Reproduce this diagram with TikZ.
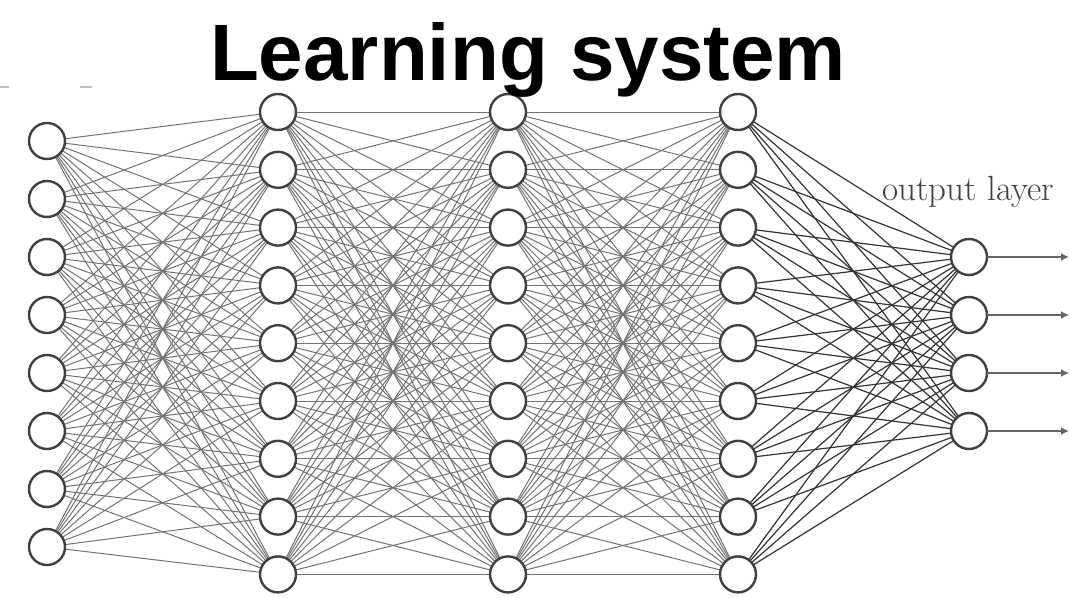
\documentclass[tikz,border=0pt]{standalone}
\usepackage{fontspec}
\newfontfamily\titlefont{Liberation Sans}
\usetikzlibrary{arrows.meta,backgrounds}
\tikzset{
  neuron/.style={circle, draw=black!75, line width=2.4pt, fill=white, minimum size=36pt, inner sep=0pt, outer sep=0pt},
  link/.style={draw=black!55, line width=1pt},
  darklink/.style={draw=black!80, line width=1.2pt},
  outarrow/.style={draw=black!60, line width=1.8pt, -{Latex[length=8pt,width=8pt]}},
  remnant/.style={draw=black!25, line width=2pt}
}
\begin{document}
\begin{tikzpicture}[x=1pt,y=-1pt]
\useasboundingbox (0,0) rectangle (1070,597);
% input layer
\foreach \i in {1,...,8} {
  \node[neuron] (i\i) at (47,{141+58*(\i-1)}) {};
}
% hidden layers
\foreach \L/\x in {a/278,b/508,c/738} {
  \foreach \i in {1,...,9} {
    \node[neuron] (\L\i) at (\x,{112+57.8*(\i-1)}) {};
  }
}
% output layer
\foreach \i in {1,...,4} {
  \node[neuron] (o\i) at (969,{257+58*(\i-1)}) {};
}
\begin{pgfonlayer}{background}
\foreach \i in {1,...,8} \foreach \j in {1,...,9} \draw[link] (i\i) -- (a\j);
\foreach \i in {1,...,9} \foreach \j in {1,...,9} \draw[link] (a\i) -- (b\j);
\foreach \i in {1,...,9} \foreach \j in {1,...,9} \draw[link] (b\i) -- (c\j);
\foreach \i in {1,...,9} \foreach \j in {1,...,4} \draw[darklink] (c\i) -- (o\j);
\end{pgfonlayer}
% output arrows
\coordinate (endx) at (1069,0);
\foreach \i in {1,...,4} \draw[outarrow] (o\i.east) -- (o\i -| endx);
% label
\node[font=\fontsize{35}{40}\selectfont, text=black!75, anchor=base west, inner sep=0pt] (outlabel) at (882,200) {output layer};
% remnants at top left
\coordinate (m1) at (0,87); \coordinate (m2) at (9,87);
\coordinate (m3) at (80,87); \coordinate (m4) at (92,87);
\draw[remnant] (m1) -- (m2);
\draw[remnant] (m3) -- (m4);
% title
\node[font=\titlefont\bfseries\fontsize{80}{90}\selectfont, anchor=base, inner sep=0pt] (title) at (528,80) {Learning system};
\end{tikzpicture}
\end{document}
